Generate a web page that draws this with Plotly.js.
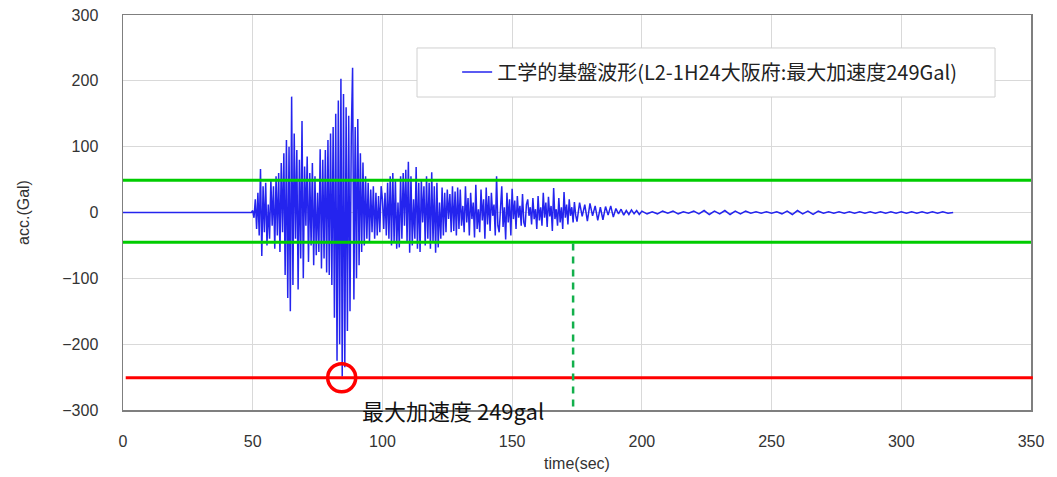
<!DOCTYPE html>
<html><head><meta charset="utf-8">
<script src="https://cdn.plot.ly/plotly-3.0.1.min.js"></script>
<style>html,body{margin:0;padding:0;background:#fff}</style>
</head><body><div id="chart" style="width:1057px;height:477px"></div>
<script>
// quiet record before the arrival
const preTime = [0];
const preAcc = [0];

// segment A: strong motion (start 49.5 s, sampled every 0.5 s)
const startA = 49.5, dtA = 0.5;
const accA = [
  0, 3, -8, 20, -25, 30, -35, 66, -66, 40,
  -30, 45, -50, 12, -40, 50, -20, 40, -55, 55,
  -35, 60, -60, 75, -30, 90, -95, 110, -130, 100,
  -150, 176, -110, 120, -40, 95, -117, 80, -70, 139,
  -100, 70, -20, 85, -75, 60, -50, 75, -80, 55,
  -65, 30, -60, 96, -85, 80, -70, 95, -91, 110,
  -95, 120, -110, 130, -160, 150, -225, 170, -200, 203,
  -249, 180, -235, 160, -180, 147, -150, 120, 220, -132,
  130, -100, 142, -80, 90, -60, 76, -50, 55, -40,
  45, -45, 35, -30, 40, -40, 30, -35, 25, -30, 40
];

// segment B: start 100 s, every 0.5 s
const startB = 100, dtB = 0.5;
const accB = [
  20, -25, 30, -35, 45, -40, 55, -50, 60, -45,
  50, -55, 15, -53, 55, -40, 60, -20, 65, -45,
  77, -61, 55, -50, 20, -40, 69, -55, 45, -60,
  50, -15, 40, -50, 55, -40, 45, -55, 61, -45,
  40, -61, 45, -53, 15, -40, 38, -35, 30, -30,
  35, -10, 28, -30, 40, -28, 32, -35, 38, -25
];

// segment C1: start 130 s, every 0.5 s
const startC1 = 130, dtC1 = 0.5;
const accC1 = [
  35, -20, 10, -30, 40, -15, 22, -35, 30, -10,
  15, -38, 42, -25, 5, -30, 35, -12, 20, -40,
  38, -18, 25, -28, 30, -5, 12, -35, 55, -20,
  -30, 15, 40, -22, 8, -41, 30, -15, 20, -35,
  36, -10, 18, -25, 25, -8, 10, -20, 28, -15,
  -22, 12, 20, -5, 8, -18, 22, -10, 5, -25,
  25, -12, 8, -20, 30, -8, 15, -22, 24, -6,
  10, -28, 37, -10, 5, -20, 22, -15, 8, -25,
  31, -8, 12, -18, 20, -5, 8, -15, 16, -4
];

// segment C2: start 175 s, every 1 s
const startC2 = 175, dtC2 = 1;
const accC2 = [
  -14, 15, -6, 12, -13, 14, -5, 10, -12, 8,
  -11, 9, -4, 10, -7, 6, -2, 5, -4, 3,
  -3, 4, -2, 3, -3
];

// segment D: coda, start 200 s, every 2 s
const startD = 200, dtD = 2;
const accD = [
  2, -2, 1, -2, 2, -1, 2, -2, 1, -1,
  2, -2, 3, -3, 2, -2, 3, -3, 2, -2,
  2, -1, 1, -1, 1, -1, 1, -2, 2, -3,
  3, -2, 2, -3, 2, -1, 1, -1, 1, -1,
  1, -1, 1, -1, 1, -1, 1, -1, 1, -1,
  1, -1, 1, -1, 1, -1, 1, -1, 1, -1,
  0
];

const seriesName = '工学的基盤波形(L2-1H24大阪府:最大加速度249Gal)';
const xTicks = [0, 50, 100, 150, 200, 250, 300, 350];
const yTicks = [-300, -200, -100, 0, 100, 200, 300];
const bandUpper = 49, bandLower = -45, peakLine = -251, peakTime = 84.3, markTime = 173.5;
const peakLabel = '最大加速度 249gal';

const time = [...preTime];
const acc = [...preAcc];
[[startA, dtA, accA], [startB, dtB, accB], [startC1, dtC1, accC1], [startC2, dtC2, accC2], [startD, dtD, accD]].forEach(([s, d, arr]) => {
  arr.forEach((v, i) => { time.push(+(s + i * d).toFixed(2)); acc.push(v); });
});

const trace = {
  type: 'scatter', mode: 'lines', x: time, y: acc, name: seriesName,
  line: {color: '#2424ee', width: 1.5}
};

const layout = {
  width: 1057, height: 477,
  margin: {l: 123, r: 26, t: 15, b: 67},
  paper_bgcolor: '#ffffff', plot_bgcolor: '#ffffff',
  font: {family: '"Liberation Sans", Arial, sans-serif', color: '#333', size: 16},
  showlegend: true,
  legend: {x: 0.368, y: 0.856, xanchor: 'left', yanchor: 'middle', bgcolor: 'rgba(0,0,0,0)', borderwidth: 0,
           font: {family: '"Noto Sans CJK JP", sans-serif', size: 20, color: '#222'}},
  xaxis: {range: [0, 350], tickvals: xTicks, showgrid: true, gridcolor: '#d9d9d9', gridwidth: 1,
          showline: true, mirror: true, linecolor: '#7f7f7f', linewidth: 1.5, zeroline: false, ticks: '',
          ticklabelstandoff: 16, tickfont: {size: 16, color: '#333'},
          title: {text: 'time(sec)', font: {size: 16, color: '#333'}, standoff: 9}},
  yaxis: {range: [-300, 300], tickvals: yTicks, showgrid: true, gridcolor: '#d9d9d9', gridwidth: 1,
          showline: true, mirror: true, linecolor: '#7f7f7f', linewidth: 1.5, zeroline: false, ticks: '',
          ticklabelstandoff: 20, tickfont: {size: 16, color: '#333'},
          title: {text: 'acc.(Gal)', font: {size: 16, color: '#333'}, standoff: 28}},
  shapes: [
    {type: 'rect', xref: 'paper', yref: 'paper', x0: 0.3238, x1: 0.9604, y0: 0.7924, y1: 0.9165,
     fillcolor: '#ffffff', line: {color: '#d0d0d0', width: 1}, layer: 'above'},
    {type: 'line', xref: 'paper', yref: 'y', x0: 0, x1: 1, y0: bandUpper, y1: bandUpper,
     line: {color: '#00cc00', width: 3}, layer: 'above'},
    {type: 'line', xref: 'paper', yref: 'y', x0: 0, x1: 1, y0: bandLower, y1: bandLower,
     line: {color: '#00cc00', width: 3}, layer: 'above'},
    {type: 'line', xref: 'paper', yref: 'y', x0: 0.003, x1: 1.002, y0: peakLine, y1: peakLine,
     line: {color: '#ff0000', width: 3}, layer: 'above'},
    {type: 'circle', xref: 'x', yref: 'y', xsizemode: 'pixel', ysizemode: 'pixel',
     xanchor: peakTime, yanchor: peakLine, x0: -14, x1: 14, y0: -14, y1: 14,
     line: {color: '#ff0000', width: 3.5}, layer: 'above'},
    {type: 'line', xref: 'x', yref: 'y', x0: markTime, x1: markTime, y0: bandLower - 2, y1: -300,
     line: {color: '#13b04c', width: 2.5, dash: '7px,6px'}, layer: 'above'}
  ],
  annotations: [
    {text: peakLabel, xref: 'x', yref: 'y', x: 127.2, y: -300, showarrow: false,
     xanchor: 'center', yanchor: 'middle',
     font: {family: '"Noto Sans CJK JP", sans-serif', size: 22, color: '#111'}}
  ]
};

Plotly.newPlot('chart', [trace], layout, {displayModeBar: false, staticPlot: true});
</script></body></html>
